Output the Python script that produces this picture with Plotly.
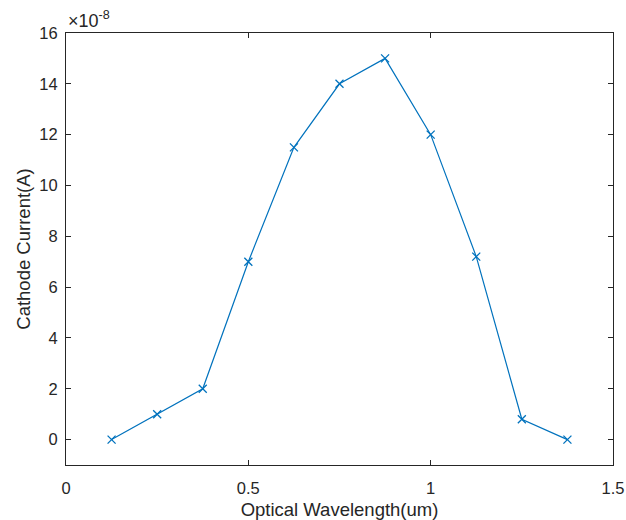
import plotly.graph_objects as go

# Wavelength (um) and measured cathode current (A)
wavelength_um = [0.125, 0.25, 0.375, 0.5, 0.625, 0.75, 0.875, 1.0, 1.125, 1.25, 1.375]
cathode_current_a = [0.0, 1.0e-8, 2.0e-8, 7.0e-8, 11.5e-8, 14.0e-8, 15.0e-8,
                     12.0e-8, 7.2e-8, 0.8e-8, 0.0]

scale = 1e-8
x_ticks = [0, 0.5, 1, 1.5]
y_ticks = [0, 2, 4, 6, 8, 10, 12, 14, 16]

line_color = "#0072BD"
axis_color = "#262626"
font_family = "Liberation Sans, Arial, sans-serif"

fig = go.Figure()
fig.add_trace(go.Scatter(
    x=wavelength_um,
    y=[v / scale for v in cathode_current_a],
    mode="lines+markers",
    line=dict(color=line_color, width=1.2),
    marker=dict(symbol="x-thin", size=8, color=line_color,
                line=dict(color=line_color, width=1.3)),
    showlegend=False,
))

axis_common = dict(
    showgrid=False, zeroline=False, automargin=False,
    showline=True, linecolor=axis_color, linewidth=1,
    mirror="ticks", ticks="inside", ticklen=5, tickwidth=1, tickcolor=axis_color,
    tickfont=dict(family=font_family, size=16.5, color=axis_color),
)

fig.update_xaxes(range=[0, 1.5], tickvals=x_ticks,
                 ticktext=[str(t) for t in x_ticks],
                 ticklabelstandoff=8,
                 title=dict(text="Optical Wavelength(um)", standoff=7,
                            font=dict(family=font_family, size=18.5, color=axis_color)),
                 **axis_common)
fig.update_yaxes(range=[-1, 16], tickvals=y_ticks,
                 ticklabelstandoff=4,
                 title=dict(text="Cathode Current(A)", standoff=3,
                            font=dict(family=font_family, size=18.5, color=axis_color)),
                 **axis_common)

fig.add_annotation(
    text="\u00d710<sup>-8</sup>", xref="paper", yref="paper",
    x=0, y=1, xanchor="left", yanchor="bottom", yshift=0, showarrow=False,
    font=dict(family=font_family, size=18, color=axis_color),
)

fig.update_layout(
    width=626, height=520,
    margin=dict(l=66, r=13, t=33, b=55),
    paper_bgcolor="white", plot_bgcolor="white",
)

fig.write_html("out.html")
